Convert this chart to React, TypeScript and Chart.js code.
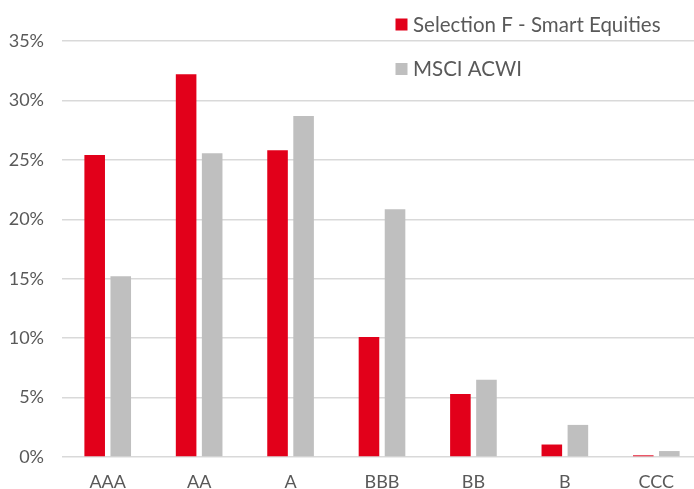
import React, { useEffect, useRef } from 'react';
import { Chart, registerables } from 'chart.js';

Chart.register(...registerables);

const categories = ['AAA', 'AA', 'A', 'BBB', 'BB', 'B', 'CCC'];
const seriesNames = ['Selection F - Smart Equities', 'MSCI ACWI'];
const selectionValues = [25.4, 32.2, 25.8, 10.1, 5.3, 1.05, 0.14];
const msciValues = [15.2, 25.55, 28.7, 20.85, 6.5, 2.7, 0.5];
const yMin = 0;
const yMax = 35;
const yStep = 5;

const RED = '#E2001A';
const GREY = '#BFBFBF';
const TEXT = '#595959';
const GRID = '#D9D9D9';
const FONT = 'Lato';

const legendPlugin = {
  id: 'stackedLegend',
  afterDraw(chart: any) {
    const ctx = chart.ctx;
    ctx.save();
    ctx.font = `20.5px ${FONT}`;
    ctx.textAlign = 'left';
    ctx.textBaseline = 'alphabetic';
    chart.data.datasets.forEach((ds: any, i: number) => {
      const cy = 24.5 + i * 44.5;
      ctx.fillStyle = ds.backgroundColor;
      ctx.fillRect(395.5, cy - 6, 12, 12);
      ctx.fillStyle = TEXT;
      ctx.fillText(ds.label, 413, cy + 7);
    });
    ctx.restore();
  },
};

export default function App() {
  const ref = useRef<HTMLCanvasElement | null>(null);

  useEffect(() => {
    document.body.style.overflow = 'hidden';
    const canvas = ref.current;
    if (!canvas) return;
    const chart = new Chart(canvas, {
      type: 'bar',
      data: {
        labels: categories,
        datasets: [
          {
            label: seriesNames[0],
            data: selectionValues,
            backgroundColor: RED,
            borderWidth: 0,
            categoryPercentage: 0.57,
            barPercentage: 0.79,
          },
          {
            label: seriesNames[1],
            data: msciValues,
            backgroundColor: GREY,
            borderWidth: 0,
            categoryPercentage: 0.57,
            barPercentage: 0.79,
          },
        ],
      },
      plugins: [legendPlugin],
      options: {
        responsive: false,
        animation: false,
        devicePixelRatio: 1,
        layout: { padding: { top: 41, right: 8, bottom: 0, left: 0 } },
        plugins: {
          legend: { display: false },
          tooltip: { enabled: false },
          title: { display: false },
        },
        scales: {
          x: {
            grid: { display: false, drawTicks: false },
            border: { display: false },
            ticks: {
              color: TEXT,
              font: { family: FONT, size: 18 },
              padding: 14.5,
              maxRotation: 0,
            },
            afterFit: (scale: any) => {
              scale.height = 32;
            },
          },
          y: {
            min: yMin,
            max: yMax,
            grid: { color: GRID, lineWidth: 1.5, drawTicks: false },
            border: { display: false },
            ticks: {
              stepSize: yStep,
              color: TEXT,
              font: { family: FONT, size: 18 },
              padding: 18,
              callback: (v: any) => `${v}%`,
            },
            afterFit: (scale: any) => {
              scale.width = 62;
            },
          },
        },
      },
    });
    return () => chart.destroy();
  }, []);

  return (
    <div style={{ position: 'fixed', left: 0, top: 0, width: 710, height: 489, overflow: 'hidden', background: '#fff' }}>
      <canvas ref={ref} width={710} height={489} style={{ width: 710, height: 489, display: 'block' }} />
    </div>
  );
}
